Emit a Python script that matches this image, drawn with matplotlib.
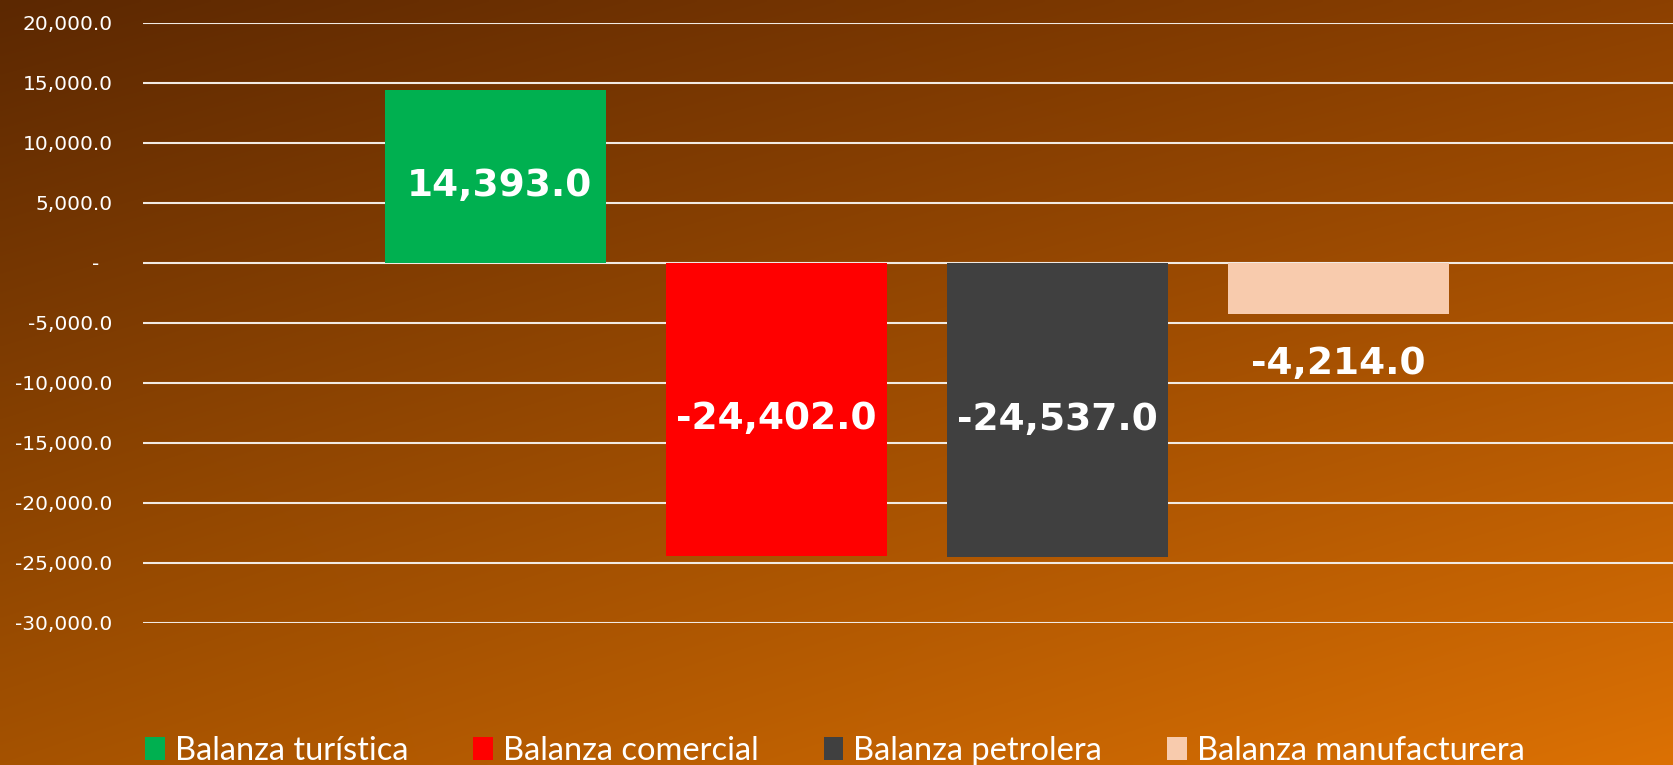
import numpy as np
import matplotlib
matplotlib.use("Agg")
import matplotlib.pyplot as plt
from matplotlib.patches import Patch

# ---- data ----
series = ["Balanza turística", "Balanza comercial", "Balanza petrolera", "Balanza manufacturera"]
values = [14393.0, -24402.0, -24537.0, -4214.0]
colors = ["#00B050", "#FF0000", "#404040", "#F8CBAD"]
yticks = [20000, 15000, 10000, 5000, 0, -5000, -10000, -15000, -20000, -25000, -30000]

plt.rcParams['font.family'] = ['Lato', 'DejaVu Sans']

W, H = 1673, 765
fig = plt.figure(figsize=(W / 100, H / 100), dpi=100)

# background gradient (bilinear between corners)
bg = fig.add_axes([0, 0, 1, 1], zorder=-10)
tl = np.array([92, 40, 2]) / 255
tr = np.array([140, 64, 0]) / 255
bl = np.array([165, 82, 0]) / 255
br = np.array([220, 113, 4]) / 255
ny, nx = 200, 400
u = np.linspace(0, 1, nx)[None, :, None]
v = np.linspace(0, 1, ny)[:, None, None]
img = (1 - u) * (1 - v) * tl + u * (1 - v) * tr + (1 - u) * v * bl + u * v * br
bg.imshow(img, aspect='auto', extent=[0, 1, 0, 1], interpolation='bilinear')
bg.set_axis_off()

# main axes
left_px, right_px = 143, 1673
top_px, bot_px = 23, 623
ax = fig.add_axes([left_px / W, (H - bot_px) / H, (right_px - left_px) / W, (bot_px - top_px) / H])
ax.set_facecolor('none')

x = np.arange(len(values))
spacing = 281.0
bw = 221.0 / spacing
bars = []
for i, (val, c) in enumerate(zip(values, colors)):
    b = ax.bar(x[i], val, width=bw, color=c, zorder=3, label=series[i])
    bars.append(b)

first_center = 495.5
ax.set_xlim((left_px - first_center) / spacing, (right_px - first_center) / spacing)
ax.set_ylim(-30000, 20000)
ax.set_yticks(yticks)

def fmt_tick(v):
    if v == 0:
        return "-  "
    return f"{v:,.1f}"

ax.set_yticklabels([fmt_tick(t) for t in yticks], color='white', fontsize=14.5,
                   family='DejaVu Sans')
ax.tick_params(axis='y', length=0, pad=22)
ax.set_xticks([])
for s in ax.spines.values():
    s.set_visible(False)
ax.yaxis.grid(True, color='#F2EAE2', linewidth=1.5, zorder=1)
ax.set_axisbelow(True)

lab_kw = dict(color='white', fontsize=27, fontweight='bold', family='DejaVu Sans')
for i, b in enumerate(bars):
    if i < 3:
        texts = ax.bar_label(b, labels=[f"{values[i]:,.1f}"], label_type='center', **lab_kw)
        for t in texts:
            t.xyann = (3 if i == 0 else 0, -7)
    else:
        ax.bar_label(b, labels=[f"{values[i]:,.1f}"], label_type='edge', padding=23, **lab_kw)

handles = [Patch(facecolor=c, edgecolor='none', label=s) for s, c in zip(series, colors)]
fig.legend(handles=handles, loc='center', bbox_to_anchor=(0.499, 0.018), ncol=4, frameon=False,
           fontsize=23.5, labelcolor='white', handlelength=0.6, handleheight=0.7,
           handletextpad=0.3, columnspacing=2.0)

fig.savefig("out.png", dpi=100)
